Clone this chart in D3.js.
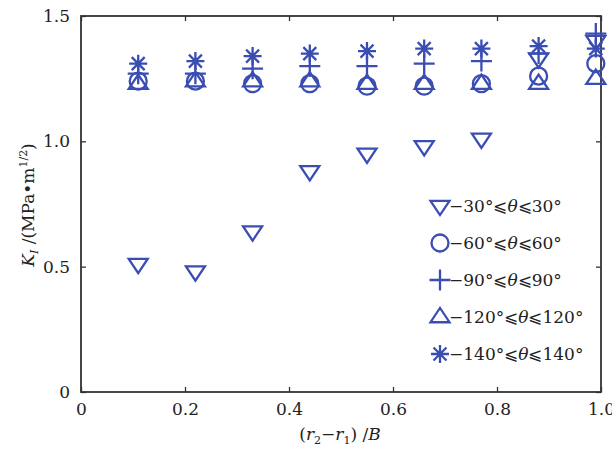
<!DOCTYPE html>
<html>
<head>
<meta charset="utf-8">
<script src="https://cdn.jsdelivr.net/npm/d3@7"></script>
<style>
  body { margin: 0; background: #fff; }
  svg text { font-family: "DejaVu Serif", "Liberation Serif", serif; fill: #222; }
</style>
</head>
<body>
<div id="chart"></div>
<script>
// data
let xs = [0.11, 0.22, 0.33, 0.44, 0.55, 0.66, 0.77, 0.88, 0.99];
let k30  = [0.51, 0.48, 0.64, 0.88, 0.95, 0.98, 1.01, 1.33, 1.40];
let k60  = [1.24, 1.24, 1.23, 1.23, 1.22, 1.22, 1.23, 1.26, 1.31];
let k90  = [1.27, 1.27, 1.29, 1.30, 1.30, 1.31, 1.32, 1.35, 1.43];
let k120 = [1.23, 1.24, 1.24, 1.24, 1.23, 1.23, 1.23, 1.23, 1.25];
let k140 = [1.31, 1.32, 1.34, 1.35, 1.36, 1.37, 1.37, 1.38, 1.37];
let seriesLo = ["\u221230", "\u221260", "\u221290", "\u2212120", "\u2212140"];
let seriesHi = ["30", "60", "90", "120", "140"];
let xTicks = [0, 0.2, 0.4, 0.6, 0.8, 1.0];
let yTicks = [0, 0.5, 1.0, 1.5];

let width = 612, height = 449;
let margin = {top: 16, right: 11, bottom: 57, left: 81};
let blue = "#3a4db3";

// marker shapes, all drawn as strokes
let downTri = { draw(c, s) { let r = s; c.moveTo(-r, -r * 0.55); c.lineTo(r, -r * 0.55); c.lineTo(0, r * 0.95); c.closePath(); } };
let upTri = { draw(c, s) { let r = s; c.moveTo(-r, r * 0.55); c.lineTo(r, r * 0.55); c.lineTo(0, -r * 0.95); c.closePath(); } };
let circ = { draw(c, s) { c.moveTo(s, 0); c.arc(0, 0, s, 0, 2 * Math.PI); } };
let plus = { draw(c, s) { c.moveTo(-s, 0); c.lineTo(s, 0); c.moveTo(0, -s); c.lineTo(0, s); } };
let star = { draw(c, s) {
  let d = s * 0.72;
  c.moveTo(-s, 0); c.lineTo(s, 0); c.moveTo(0, -s); c.lineTo(0, s);
  c.moveTo(-d, -d); c.lineTo(d, d); c.moveTo(-d, d); c.lineTo(d, -d);
} };

let series = [
  {vals: k30,  type: downTri, size: 9.5},
  {vals: k60,  type: circ,    size: 8.5},
  {vals: k90,  type: plus,    size: 10.5},
  {vals: k120, type: upTri,   size: 9.5},
  {vals: k140, type: star,    size: 9}
];

let svg = d3.select("#chart").append("svg")
  .attr("width", width).attr("height", height);

let x = d3.scaleLinear().domain([0, 1]).range([margin.left, width - margin.right]);
let y = d3.scaleLinear().domain([0, 1.5]).range([height - margin.bottom, margin.top]);

// axes with inward ticks
let fmt = d => d === 0 ? "0" : d3.format(".1f")(d);
svg.append("g").attr("transform", `translate(0,${y(0)})`)
  .call(d3.axisBottom(x).tickValues(xTicks).tickSize(-5).tickPadding(11).tickFormat(fmt));
svg.append("g").attr("transform", `translate(0,${y(1.5)})`)
  .call(d3.axisTop(x).tickValues(xTicks).tickSize(-5).tickFormat(""));
svg.append("g").attr("transform", `translate(${x(0)},0)`)
  .call(d3.axisLeft(y).tickValues(yTicks).tickSize(-5).tickPadding(11).tickFormat(fmt));
svg.append("g").attr("transform", `translate(${x(1)},0)`)
  .call(d3.axisRight(y).tickValues(yTicks).tickSize(-5).tickFormat(""));

svg.selectAll("g").attr("font-family", null);
svg.selectAll(".domain").remove();
svg.selectAll(".tick line").attr("stroke", "#333").attr("stroke-width", 1.3);
svg.selectAll(".tick text").style("font-size", "17px").attr("fill", "#222");

svg.append("rect")
  .attr("x", x(0)).attr("y", y(1.5))
  .attr("width", x(1) - x(0)).attr("height", y(0) - y(1.5))
  .attr("fill", "none").attr("stroke", "#333").attr("stroke-width", 1.8);

// markers
series.forEach(s => {
  let sym = d3.symbol().type(s.type).size(s.size);
  svg.append("g").selectAll("path").data(s.vals).join("path")
    .attr("transform", (v, i) => `translate(${x(xs[i])},${y(v)})`)
    .attr("d", sym)
    .attr("fill", "none").attr("stroke", blue).attr("stroke-width", 2.3);
});

// legend
let lg = svg.append("g").attr("transform", "translate(440,206)");
series.forEach((s, i) => {
  let row = lg.append("g").attr("transform", `translate(0,${i * 37})`);
  row.append("path").attr("d", d3.symbol().type(s.type).size(s.size))
    .attr("fill", "none").attr("stroke", blue).attr("stroke-width", 2.3);
  row.append("text").attr("x", 9).attr("y", 6).style("font-size", "17px")
    .html(`${seriesLo[i]}\u00b0\u2a7d<tspan font-style="italic">\u03b8</tspan>\u2a7d${seriesHi[i]}\u00b0`);
});

// axis titles
svg.append("text").attr("x", 340).attr("y", 440).attr("text-anchor", "middle")
  .style("font-size", "17px")
  .html('(<tspan font-style="italic">r</tspan><tspan dy="4" font-size="11px">2</tspan><tspan dy="-4">\u2212</tspan><tspan font-style="italic">r</tspan><tspan dy="4" font-size="11px">1</tspan><tspan dy="-4">) /</tspan><tspan font-style="italic">B</tspan>');

svg.append("text").attr("transform", "translate(34,205) rotate(-90)").attr("text-anchor", "middle")
  .style("font-size", "17px")
  .html('<tspan font-style="italic">K</tspan><tspan dy="4" font-size="11px" font-style="italic">I</tspan><tspan dy="-4"> /(MPa\u2022m</tspan><tspan dy="-7" font-size="11px">1/2</tspan><tspan dy="7">)</tspan>');
</script>
</body>
</html>
